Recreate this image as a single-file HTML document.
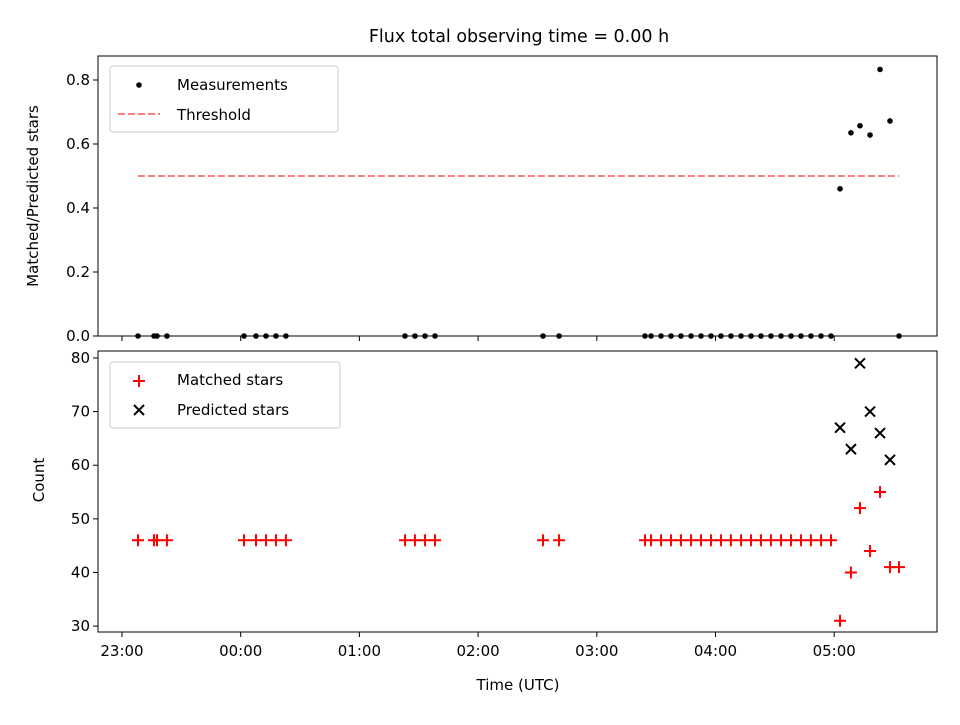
<!DOCTYPE html>
<html><head><meta charset="utf-8"><style>
body{margin:0;background:#fff}
svg text{font-family:"DejaVu Sans","Liberation Sans",sans-serif;fill:#000}
</style></head><body>
<svg id="c" width="960" height="720" xmlns="http://www.w3.org/2000/svg"></svg>
<script>
const times=[0.135,0.270,0.295,0.379,1.028,1.129,1.213,1.297,1.381,2.384,2.468,2.553,2.637,3.547,3.682,4.406,4.457,4.541,4.625,4.709,4.794,4.878,4.962,5.046,5.130,5.215,5.299,5.383,5.467,5.552,5.636,5.720,5.804,5.889,5.973,6.049,6.141,6.217,6.302,6.386,6.470,6.546];
const ratio=[0,0,0,0,0,0,0,0,0,0,0,0,0,0,0,0,0,0,0,0,0,0,0,0,0,0,0,0,0,0,0,0,0,0,0,0.46,0.635,0.657,0.628,0.833,0.672,0];
const matched=[46,46,46,46,46,46,46,46,46,46,46,46,46,46,46,46,46,46,46,46,46,46,46,46,46,46,46,46,46,46,46,46,46,46,46,31,40,52,44,55,41,41];
const predTimes=[6.049,6.141,6.217,6.302,6.386,6.470];
const predicted=[67,63,79,70,66,61];
const threshold=0.5;
const xTickLabels=["23:00","00:00","01:00","02:00","03:00","04:00","05:00"];
const topTicks=[0,0.2,0.4,0.6,0.8];
const botTicks=[30,40,50,60,70,80];

const svg=document.getElementById('c');const NS="http://www.w3.org/2000/svg";
function el(t,a,p){const e=document.createElementNS(NS,t);for(const k in a)e.setAttribute(k,a[k]);(p||svg).appendChild(e);return e;}
const L=98,R=937,xmin=-0.202,xmax=6.866;
const X=v=>L+(v-xmin)/(xmax-xmin)*(R-L);
const T={t:56,b:336,min:0,max:0.875};const B={t:351,b:632,min:28.9,max:81.3};
const Yt=v=>T.b-(v-T.min)/(T.max-T.min)*(T.b-T.t);
const Yb=v=>B.b-(v-B.min)/(B.max-B.min)*(B.b-B.t);
const FS=15;

let t=el('text',{x:519,y:42,'font-size':17.5,'text-anchor':'middle'});t.textContent="Flux total observing time = 0.00 h";


let th=el('line',{x1:X(times[0]),x2:X(times[times.length-1]),y1:Yt(threshold),y2:Yt(threshold),stroke:'#ff7f7f','stroke-width':2,'stroke-dasharray':'7,3'});

times.forEach((tm,i)=>{const c=el('circle',{cx:X(tm),cy:Yt(ratio[i]),r:2.8,fill:'#000'});
});
times.forEach((tm,i)=>{const x=X(tm),y=Yb(matched[i]);const p=el('path',{d:`M${x-6},${y}H${x+6}M${x},${y-6}V${y+6}`,stroke:'#f00','stroke-width':2});
});
predTimes.forEach((tm,i)=>{const x=X(tm),y=Yb(predicted[i]);const p=el('path',{d:`M${x-5},${y-5}L${x+5},${y+5}M${x-5},${y+5}L${x+5},${y-5}`,stroke:'#000','stroke-width':2});
});

[[T,'top'],[B,'bottom']].forEach(([a,n])=>{const r=el('rect',{x:L,y:a.t,width:R-L,height:a.b-a.t,fill:'none',stroke:'#000','stroke-width':1});
});
xTickLabels.forEach((lb,i)=>{const x=X(i);
[T.b,B.b].forEach(yb=>el('line',{x1:x,x2:x,y1:yb,y2:yb+5,stroke:'#000'}));
const tx=el('text',{x:x,y:B.b+24,'font-size':FS,'text-anchor':'middle'});tx.textContent=lb;
});
topTicks.forEach(v=>{const y=Yt(v);el('line',{x1:L-5,x2:L,y1:y,y2:y,stroke:'#000'});
const tx=el('text',{x:L-8,y:y+5,'font-size':FS,'text-anchor':'end'});tx.textContent=v.toFixed(1);
});
botTicks.forEach(v=>{const y=Yb(v);el('line',{x1:L-5,x2:L,y1:y,y2:y,stroke:'#000'});
const tx=el('text',{x:L-8,y:y+5,'font-size':FS,'text-anchor':'end'});tx.textContent=v;
});
let xl=el('text',{x:518,y:690,'font-size':FS,'text-anchor':'middle'});xl.textContent="Time (UTC)";

let y1=el('text',{x:38,y:196,'font-size':FS,'text-anchor':'middle',transform:'rotate(-90 38 196)'});y1.textContent="Matched/Predicted stars";

let y2=el('text',{x:44,y:480,'font-size':FS,'text-anchor':'middle',transform:'rotate(-90 44 480)'});y2.textContent="Count";


let lg=el('rect',{x:110,y:66,width:228,height:66,rx:3,fill:'#fff','fill-opacity':0.8,stroke:'#ccc'});

el('circle',{cx:139,cy:85,r:2.8,fill:'#000'});
el('line',{x1:118,x2:160,y1:114,y2:114,stroke:'#ff7f7f','stroke-width':2,'stroke-dasharray':'7,3'});
let a=el('text',{x:177,y:90,'font-size':FS});a.textContent="Measurements";
a=el('text',{x:177,y:120,'font-size':FS});a.textContent="Threshold";
lg=el('rect',{x:110,y:362,width:230,height:66,rx:3,fill:'#fff','fill-opacity':0.8,stroke:'#ccc'});

el('path',{d:'M133,381H145M139,375V387',stroke:'#f00','stroke-width':2});
el('path',{d:'M134,405L144,415M134,415L144,405',stroke:'#000','stroke-width':2});
a=el('text',{x:177,y:385,'font-size':FS});a.textContent="Matched stars";
a=el('text',{x:177,y:415,'font-size':FS});a.textContent="Predicted stars";
</script>
</body></html>
